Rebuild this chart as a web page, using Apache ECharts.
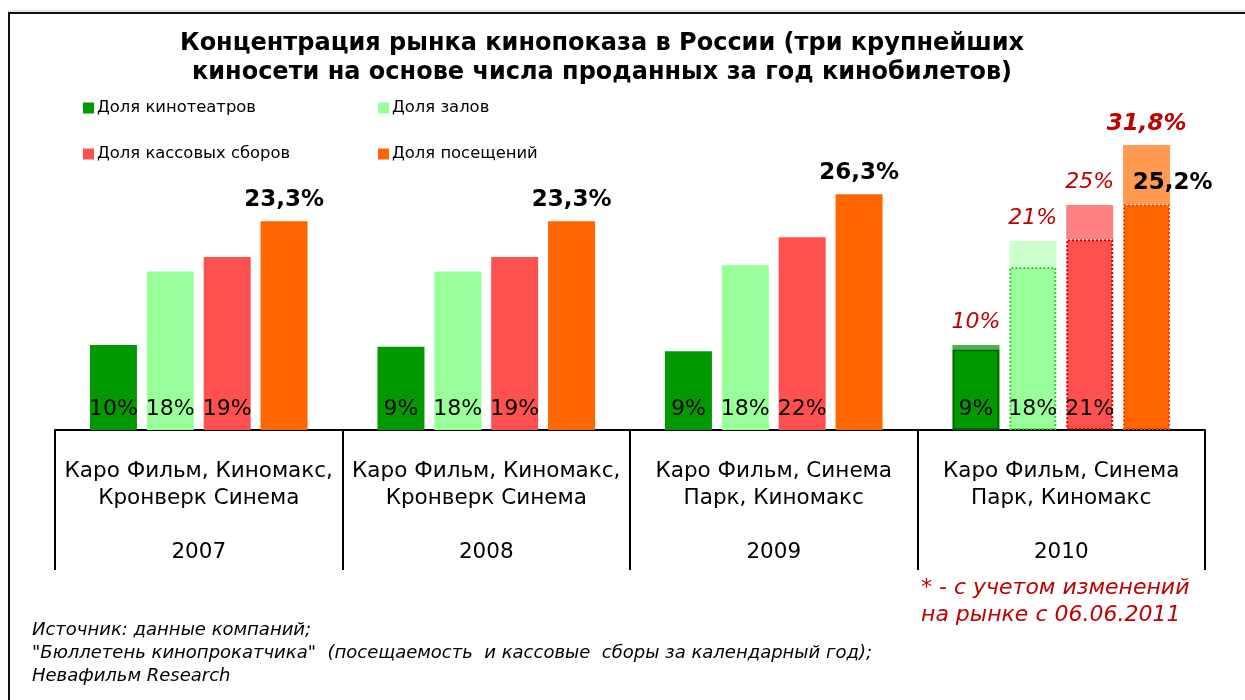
<!DOCTYPE html>
<html><head><meta charset="utf-8">
<script src="https://cdn.jsdelivr.net/npm/echarts@6/dist/echarts.min.js"></script>
<style>html,body{margin:0;padding:0;background:#fff}#c{width:1245px;height:700px}</style>
</head><body><div id="c"></div>
<script>
// ---- data ----
const years = ['2007', '2008', '2009', '2010'];
const networks = [
  'Каро Фильм, Киномакс,\nКронверк Синема',
  'Каро Фильм, Киномакс,\nКронверк Синема',
  'Каро Фильм, Синема\nПарк, Киномакс',
  'Каро Фильм, Синема\nПарк, Киномакс'
];
const seriesNames = ['Доля кинотеатров', 'Доля залов', 'Доля кассовых сборов', 'Доля посещений'];
const theatres   = [9.5, 9.3, 8.8, 9.0];
const halls      = [17.7, 17.7, 18.4, 18.2];
const boxOffice  = [19.3, 19.3, 21.5, 21.3];
const attendance = [23.3, 23.3, 26.3, 25.2];
// 2010 totals with changes since 06.06.2011
const theatresAdj   = [null, null, null, 9.5];
const hallsAdj      = [null, null, null, 21.1];
const boxOfficeAdj  = [null, null, null, 25.1];
const attendanceAdj = [null, null, null, 31.8];
const titleText = 'Концентрация рынка кинопоказа в России (три крупнейших\nкиносети на основе числа проданных за год кинобилетов)';
const footnote = ['* - с учетом изменений', 'на рынке с 06.06.2011'];
const sourceLines = [
  'Источник: данные компаний;',
  '"Бюллетень кинопрокатчика"  (посещаемость  и кассовые  сборы за календарный год);',
  'Невафильм Research'
];

// ---- styling ----
const FONT = 'DejaVu Sans';
const baseColors = ['#009900', '#99FF99', '#FF5050', '#FF6600'];
const extColors  = ['#4DB24D', '#CCFFCC', '#FF8080', '#FF9A50'];
const lastBorders = [
  {borderColor: '#006600', borderWidth: 2, borderType: 'solid'},
  {borderColor: '#33CC33', borderWidth: 2, borderType: 'dotted'},
  {borderColor: '#CC0000', borderWidth: 2, borderType: 'dotted'},
  {borderColor: '#FF3300', borderWidth: 2, borderType: 'dotted'}
];
const baseArrays = [theatres, halls, boxOffice, attendance];
const adjArrays = [theatresAdj, hallsAdj, boxOfficeAdj, attendanceAdj];
const stacks = ['s0', 's1', 's2', 's3'];
const BW = 47;
const pct = v => Math.round(v) + '%';
const pct1 = v => v.toFixed(1).replace('.', ',') + '%';

const series = [];
baseArrays.forEach((arr, k) => {
  const isAtt = k === 3;
  const data = arr.map((v, i) => {
    const item = {value: v};
    if (i === 3) {
      item.itemStyle = lastBorders[k];
      if (isAtt) item.label = {offset: [26, 0]};
    }
    return item;
  });
  series.push({
    name: seriesNames[k], type: 'bar', stack: stacks[k], barWidth: BW, barGap: '21%',
    itemStyle: {color: baseColors[k]},
    data,
    label: isAtt ? {
      show: true, position: 'top', distance: 10, color: '#000', fontFamily: FONT,
      fontSize: 23, fontWeight: 'bold', formatter: p => pct1(p.value)
    } : {
      show: true, position: 'insideBottom', distance: 10, color: '#000', fontFamily: FONT,
      fontSize: 22, formatter: p => pct(p.value)
    }
  });
});
adjArrays.forEach((arr, k) => {
  const isAtt = k === 3;
  series.push({
    name: seriesNames[k] + ' *', type: 'bar', stack: stacks[k], barWidth: BW, barGap: '21%',
    itemStyle: {color: extColors[k]},
    data: arr.map((v, i) => v == null ? '-' : +(v - baseArrays[k][i]).toFixed(2)),
    label: {
      show: true, position: 'top', distance: isAtt ? 10 : 12, color: '#C00000', fontFamily: FONT,
      fontSize: isAtt ? 23 : 22, fontStyle: 'italic', fontWeight: isAtt ? 'bold' : 'normal',
      formatter: p => isAtt ? pct1(arr[p.dataIndex]) : pct(arr[p.dataIndex])
    }
  });
});

const legendPos = [[83, 100], [378, 100], [83, 146], [378, 146]];
const legends = seriesNames.map((n, k) => ({
  data: [n], left: legendPos[k][0], top: legendPos[k][1], padding: 0,
  icon: 'rect', itemWidth: 11, itemHeight: 11,
  textStyle: {fontFamily: FONT, fontSize: 16.4, color: '#000', padding: [0, 0, 0, -2]},
  selectedMode: false
}));

const graphics = [
  {type: 'rect', shape: {x: 9, y: 13, width: 1400, height: 900}, style: {fill: null, stroke: '#111', lineWidth: 2}, silent: true},
  {type: 'line', shape: {x1: 8, y1: 11, x2: 1245, y2: 11}, style: {stroke: '#ccc', lineWidth: 1}, silent: true}
];
footnote.forEach((t, i) => graphics.push({
  type: 'text', left: 921, top: 577 + i * 27,
  style: {text: t, font: 'italic 22px "DejaVu Sans"', fill: '#C00000'}
}));
sourceLines.forEach((t, i) => graphics.push({
  type: 'text', left: 32, top: 621 + i * 23,
  style: {text: t, font: 'italic 18px "DejaVu Sans"', fill: '#000'}
}));

const chart = echarts.init(document.getElementById('c'), null, {renderer: 'canvas'});
chart.setOption({
  animation: false,
  backgroundColor: '#fff',
  title: {
    text: titleText, left: 597, top: 24, textAlign: 'center',
    textStyle: {fontFamily: FONT, fontSize: 24, fontWeight: 'bold', color: '#000', lineHeight: 29}
  },
  legend: legends,
  grid: {left: 55, right: 40, top: 116.4, bottom: 270, containLabel: false, outerBoundsMode: 'none'},
  xAxis: {
    type: 'category', data: years,
    axisLine: {lineStyle: {color: '#000', width: 2}},
    axisTick: {show: true, interval: 0, length: 140, lineStyle: {color: '#000', width: 2}},
    axisLabel: {
      interval: 0, margin: 28, color: '#000', fontFamily: FONT, fontSize: 21.5, lineHeight: 27,
      formatter: (v, i) => networks[i] + '\n\n' + v
    }
  },
  yAxis: {type: 'value', min: 0, max: 35, show: false, splitLine: {show: false}},
  series,
  graphic: graphics
});
</script></body></html>
